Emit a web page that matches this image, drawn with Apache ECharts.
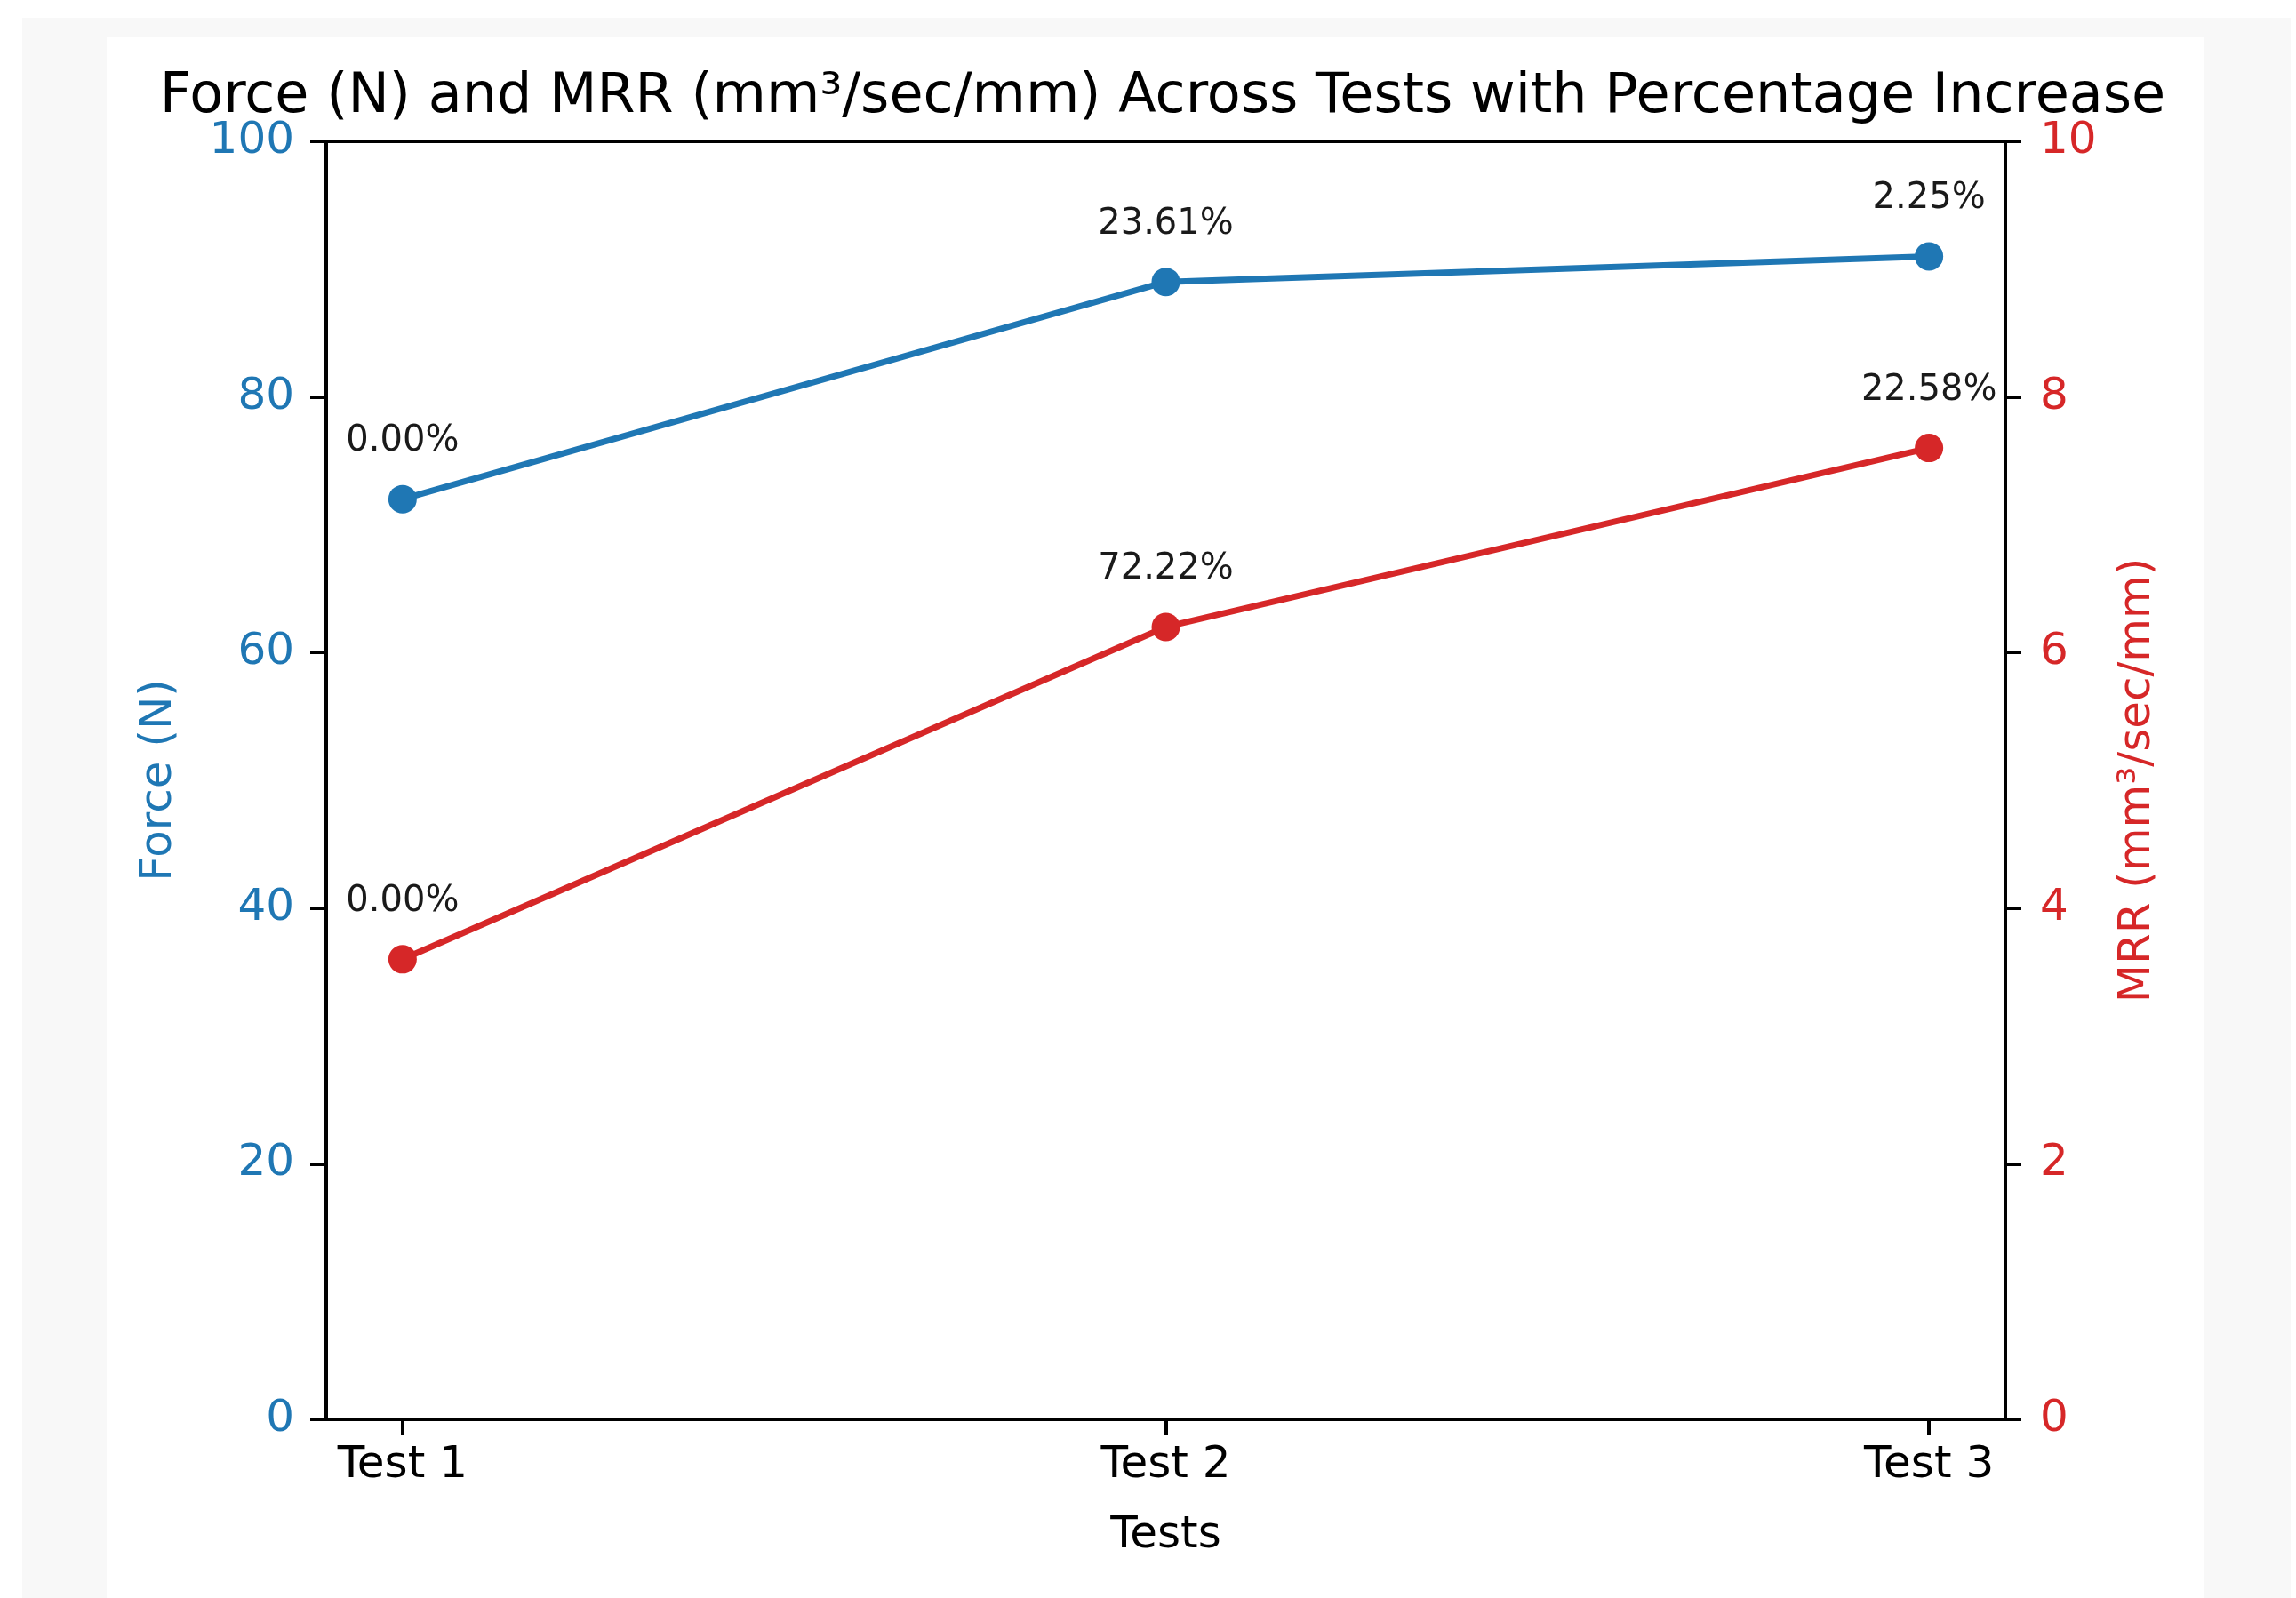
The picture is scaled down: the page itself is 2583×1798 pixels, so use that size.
<!DOCTYPE html>
<html>
<head>
<meta charset="utf-8">
<script src="https://cdn.jsdelivr.net/npm/echarts@6/dist/echarts.min.js"></script>
<style>
html,body{margin:0;padding:0;width:2583px;height:1798px;background:#ffffff;overflow:hidden;}
#bg{position:absolute;left:25px;top:20px;right:6px;bottom:0;background:#f8f8f8;}
#panel{position:absolute;left:120px;top:42px;width:2360px;bottom:0;background:#ffffff;}
#chart{position:absolute;left:0;top:0;width:2583px;height:1798px;}
</style>
</head>
<body>
<div id="bg"></div>
<div id="panel"></div>
<div id="chart"></div>
<script>
var categories = ['Test 1', 'Test 2', 'Test 3'];
var forceValues = [72, 89, 91];
var mrrValues = [3.6, 6.2, 7.6];
var forcePct = ['0.00%', '23.61%', '2.25%'];
var mrrPct = ['0.00%', '72.22%', '22.58%'];
var xTicks = [0, 1, 2];

var FONT = 'DejaVu Sans';
var BLUE = '#1f77b4';
var RED = '#d62728';

function pts(vals) {
  return vals.map(function (v, i) { return [i, v]; });
}

var chart = echarts.init(document.getElementById('chart'), null, {renderer: 'canvas'});
chart.setOption({
  backgroundColor: 'transparent',
  animation: false,
  title: {
    text: 'Force (N) and MRR (mm³/sec/mm) Across Tests with Percentage Increase',
    left: 1303,
    textAlign: 'center',
    top: 74,
    textStyle: {fontFamily: FONT, fontSize: 62, fontWeight: 'normal', color: '#000'}
  },
  grid: {left: 367, top: 159, right: 327, bottom: 201, containLabel: false},
  xAxis: [{
    type: 'value', min: -0.1, max: 2.1,
    name: 'Tests', nameLocation: 'middle', nameGap: 106,
    nameTextStyle: {fontFamily: FONT, fontSize: 50, color: '#000'},
    axisLine: {show: true, onZero: false, lineStyle: {color: '#000', width: 4}},
    axisTick: {show: true, inside: false, length: 18, lineStyle: {color: '#000', width: 4}, customValues: xTicks},
    axisLabel: {show: true, margin: 27, fontFamily: FONT, fontSize: 50, color: '#000',
      customValues: xTicks,
      formatter: function (v) { return categories[Math.round(v)] || ''; }},
    splitLine: {show: false}
  }, {
    type: 'value', min: -0.1, max: 2.1, position: 'top',
    axisLine: {show: true, onZero: false, lineStyle: {color: '#000', width: 4}},
    axisTick: {show: false}, axisLabel: {show: false}, splitLine: {show: false}
  }],
  yAxis: [{
    type: 'value', min: 0, max: 100, interval: 20, position: 'left',
    name: 'Force (N)', nameLocation: 'middle', nameGap: 163,
    nameTextStyle: {fontFamily: FONT, fontSize: 50, color: BLUE},
    axisLine: {show: true, onZero: false, lineStyle: {color: '#000', width: 4}},
    axisTick: {show: true, inside: false, length: 18, lineStyle: {color: '#000', width: 4}},
    axisLabel: {margin: 36, fontFamily: FONT, fontSize: 50, color: BLUE},
    splitLine: {show: false}
  }, {
    type: 'value', min: 0, max: 10, interval: 2, position: 'right',
    name: 'MRR (mm³/sec/mm)', nameLocation: 'middle', nameGap: 124,
    nameTextStyle: {fontFamily: FONT, fontSize: 50, color: RED},
    axisLine: {show: true, onZero: false, lineStyle: {color: '#000', width: 4}},
    axisTick: {show: true, inside: false, length: 18, lineStyle: {color: '#000', width: 4}},
    axisLabel: {margin: 39, fontFamily: FONT, fontSize: 50, color: RED},
    splitLine: {show: false}
  }],
  series: [{
    name: 'Force (N)', type: 'line', xAxisIndex: 0, yAxisIndex: 0,
    data: pts(forceValues),
    symbol: 'circle', symbolSize: 32,
    lineStyle: {color: BLUE, width: 7},
    itemStyle: {color: BLUE},
    label: {show: true, position: 'top', distance: 29, fontFamily: FONT, fontSize: 40, color: '#1a1a1a',
      formatter: function (p) { return forcePct[p.dataIndex]; }}
  }, {
    name: 'MRR (mm³/sec/mm)', type: 'line', xAxisIndex: 0, yAxisIndex: 1,
    data: pts(mrrValues),
    symbol: 'circle', symbolSize: 32,
    lineStyle: {color: RED, width: 7},
    itemStyle: {color: RED},
    label: {show: true, position: 'top', distance: 29, fontFamily: FONT, fontSize: 40, color: '#1a1a1a',
      formatter: function (p) { return mrrPct[p.dataIndex]; }}
  }]
});
</script>
</body>
</html>
